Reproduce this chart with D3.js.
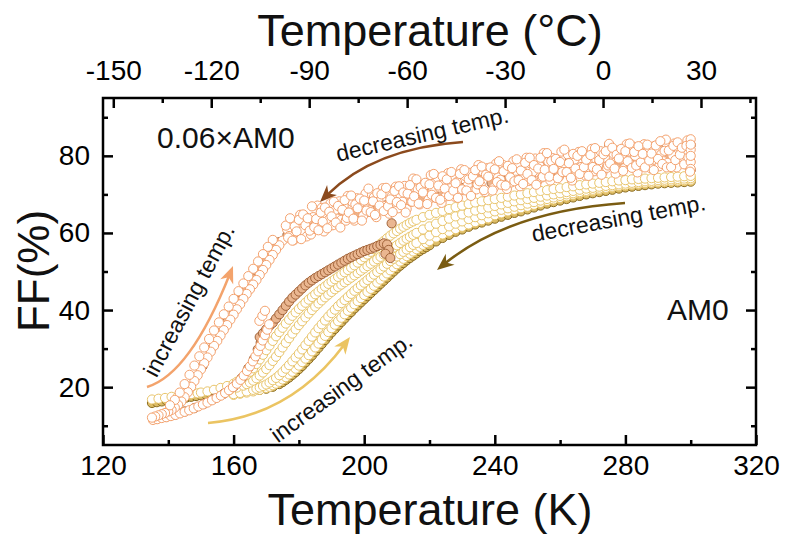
<!DOCTYPE html>
<html>
<head>
<meta charset="utf-8">
<script src="https://cdn.jsdelivr.net/npm/d3@7"></script>
<style>
  body { margin: 0; background: #fff; }
  svg { display: block; }
</style>
</head>
<body>
<svg id="chart" width="786" height="537"></svg>
<script>
// ---------- axis ticks ----------
const kelvinTicks = [120, 160, 200, 240, 280, 320];
const kelvinMinor = [140, 180, 220, 260, 300];
const celsiusTicks = [-150, -120, -90, -60, -30, 0, 30];
const celsiusMinor = [-135, -105, -75, -45, -15, 15, 45];
const ffTicks = [20, 40, 60, 80];
const ffMinor = [10, 30, 50, 70, 90];

// ---------- AM0 illumination: filled sweep (underneath) ----------
const am0Filled = [[135,15.9],[136.5,16.1],[138,16.3],[139.5,16.5],[141,16.7],[142.5,16.9],[144,17.1],[145.5,17.3],[147,17.5],[148.5,17.7],[150,17.9],[151.5,18.1],[153,18.3],[154.5,18.5],[156,18.7],[157.5,18.8],[159,18.9],[160.5,19.0],[162,19.1],[164,19.0],[166,19.1],[168,19.3],[170,19.6],[172,20.1],[174,20.8],[175,21.3],[176,21.9],[177,22.5],[178,23.2],[179,23.9],[180,24.7],[181,25.5],[182,26.4],[183,27.3],[184,28.2],[185,29.2],[186,30.2],[187,31.2],[188,32.2],[189,33.2],[190,34.2],[191,35.1],[192,36.0],[193,36.9],[194,37.8],[195,38.7],[196,39.5],[197,40.4],[198,41.2],[199,42.0],[200,42.8],[201,43.6],[202,44.4],[203,45.2],[204,46.0],[205,46.8],[206,47.6],[207,48.4],[208,49.2],[209,50.0],[210,50.8],[211,51.5],[212,52.2],[213,52.9],[214,53.5],[215,54.1],[216,54.7],[217,55.3],[218,55.8],[219,56.3],[220,56.8],[222,57.8],[224,58.7],[226,59.5],[228,60.3],[230,60.9],[232,61.6],[234,62.2],[236,62.7],[238,63.2],[240,63.7],[242,64.2],[244,64.7],[246,65.2],[248,65.6],[250,66.1],[252,66.6],[254,67.1],[256,67.6],[258,68.0],[260,68.4],[262,68.8],[264,69.2],[266,69.6],[268,70.0],[270,70.3],[272,70.6],[274,70.9],[276,71.2],[278,71.5],[280,71.8],[282,72.0],[284,72.2],[286,72.4],[288,72.6],[290,72.8],[292,72.9],[294,73.0],[296,73.1],[298,73.2],[300,73.3]];

// ---------- AM0 illumination: open sweeps ----------
const am0Open1 = [[135,16.8],[137,17.0],[139,17.2],[141,17.5],[143,17.7],[145,18.0],[147,18.2],[149,18.4],[150,18.6],[152,18.9],[154,19.3],[156,19.8],[158,20.3],[160,20.9],[161,21.4],[162,21.9],[163,22.5],[164,23.2],[165,24.0],[166,24.9],[167,26.0],[168,27.2],[169,28.4],[170,29.6],[171,30.8],[172,32.0],[173,33.2],[174,34.3],[175,35.4],[176,36.5],[177,37.5],[178,38.5],[179,39.4],[180,40.3],[181,41.1],[182,41.9],[183,42.7],[184,43.4],[185,44.1],[186,44.8],[187,45.5],[188,46.1],[189,46.8],[190,47.4],[191,48.0],[192,48.6],[193,49.2],[194,49.8],[195,50.4],[196,51.0],[197,51.6],[198,52.3],[199,53.0],[200,53.7],[201,54.4],[202,55.1],[203,55.8],[204,56.5],[205,57.2],[206,57.9],[207,58.6],[208,59.3],[209,59.9],[210,60.5],[211,61.1],[212,61.6],[213,62.1],[214,62.6],[215,63.0],[216,63.4],[218,64.1],[220,64.7],[222,65.2],[224,65.7],[226,66.2],[228,66.7],[230,67.1],[232,67.5],[234,67.9],[236,68.2],[238,68.5],[240,68.8],[242,69.1],[244,69.4],[246,69.7],[248,70.0],[250,70.3],[252,70.6],[254,70.9],[256,71.1],[258,71.4],[260,71.6],[262,71.9],[264,72.1],[266,72.4],[268,72.6],[270,72.8],[272,73.0],[274,73.2],[276,73.4],[278,73.6],[280,73.7],[282,73.9],[284,74.0],[286,74.1],[288,74.2],[290,74.3],[292,74.4],[294,74.5],[296,74.6],[298,74.7],[300,74.8]];
const am0Open2 = [[155,18.7],[157,19.0],[159,19.4],[161,19.9],[163,20.4],[164,20.8],[165,21.2],[166,21.7],[167,22.3],[168,23.0],[169,23.8],[170,24.7],[171,25.7],[172,26.8],[173,27.9],[174,29.1],[175,30.3],[176,31.5],[177,32.7],[178,33.9],[179,35.0],[180,36.1],[181,37.1],[182,38.1],[183,39.1],[184,40.0],[185,40.9],[186,41.7],[187,42.5],[188,43.3],[189,44.0],[190,44.7],[191,45.4],[192,46.0],[193,46.6],[194,47.2],[195,47.8],[196,48.4],[197,49.0],[198,49.6],[199,50.2],[200,50.8],[201,51.4],[202,52.0],[203,52.6],[204,53.2],[205,53.8],[206,54.4],[207,55.0],[208,55.6],[209,56.2],[210,56.8],[211,57.4],[212,58.0],[213,58.5],[214,59.0],[215,59.5],[216,60.0],[218,60.9],[220,61.7],[222,62.4],[224,63.1],[226,63.7],[228,64.3],[230,64.8],[232,65.3],[234,65.8],[236,66.2],[238,66.6],[240,67.0],[242,67.4],[244,67.8],[246,68.2],[248,68.5],[250,68.8],[252,69.1],[254,69.4],[256,69.7],[258,70.0],[260,70.3],[262,70.6],[264,70.9],[266,71.2],[268,71.5],[270,71.7],[272,72.0],[274,72.2],[276,72.4],[278,72.6],[280,72.8],[282,73.0],[284,73.2],[286,73.4],[288,73.5],[290,73.7],[292,73.8],[294,73.9],[296,74.0],[298,74.1],[300,74.2]];
const am0Open3 = [[160,18.2],[162,18.5],[164,18.9],[166,19.3],[167,19.6],[168,19.9],[169,20.3],[170,20.7],[171,21.2],[172,21.8],[173,22.4],[174,23.1],[175,23.9],[176,24.8],[177,25.7],[178,26.7],[179,27.7],[180,28.7],[181,29.8],[182,30.9],[183,32.0],[184,33.1],[185,34.2],[186,35.3],[187,36.3],[188,37.3],[189,38.3],[190,39.2],[191,40.1],[192,41.0],[193,41.8],[194,42.6],[195,43.4],[196,44.2],[197,45.0],[198,45.7],[199,46.4],[200,47.1],[201,47.8],[202,48.5],[203,49.2],[204,49.9],[205,50.6],[206,51.3],[207,52.0],[208,52.7],[209,53.3],[210,53.9],[211,54.5],[212,55.1],[213,55.7],[214,56.3],[215,56.9],[216,57.4],[218,58.4],[220,59.3],[222,60.2],[224,61.0],[226,61.7],[228,62.4],[230,63.0],[232,63.6],[234,64.1],[236,64.6],[238,65.1],[240,65.6],[242,66.0],[244,66.4],[246,66.8],[248,67.2],[250,67.6],[252,68.0],[254,68.4],[256,68.8],[258,69.2],[260,69.6],[262,70.0],[264,70.3],[266,70.6],[268,70.9],[270,71.2],[272,71.5],[274,71.7],[276,72.0],[278,72.2],[280,72.4],[282,72.6],[284,72.8],[286,73.0],[288,73.1],[290,73.3],[292,73.4],[294,73.5],[296,73.6],[298,73.7],[300,73.8]];
const am0Open4 = [[160,18.0],[162,18.3],[164,18.6],[166,18.9],[168,19.3],[170,19.8],[171,20.1],[172,20.5],[173,20.9],[174,21.4],[175,22.0],[176,22.6],[177,23.3],[178,24.0],[179,24.8],[180,25.6],[181,26.5],[182,27.4],[183,28.3],[184,29.3],[185,30.3],[186,31.3],[187,32.3],[188,33.3],[189,34.3],[190,35.3],[191,36.2],[192,37.1],[193,38.0],[194,38.9],[195,39.8],[196,40.6],[197,41.5],[198,42.3],[199,43.1],[200,43.9],[201,44.7],[202,45.5],[203,46.3],[204,47.1],[205,47.9],[206,48.7],[207,49.5],[208,50.3],[209,51.1],[210,51.9],[211,52.6],[212,53.3],[213,54.0],[214,54.6],[215,55.2],[216,55.8],[217,56.4],[218,56.9],[219,57.4],[220,57.9],[222,58.8],[224,59.6],[226,60.3],[228,61.0],[230,61.6],[232,62.2],[234,62.8],[236,63.3],[238,63.8],[240,64.6],[242,65.1],[244,65.6],[246,66.0],[248,66.4],[250,66.8],[252,67.3],[254,67.8],[256,68.3],[258,68.7],[260,69.1],[262,69.5],[264,69.9],[266,70.3],[268,70.6],[270,70.9],[272,71.2],[274,71.5],[276,71.8],[278,72.1],[280,72.3],[282,72.5],[284,72.7],[286,72.9],[288,73.0],[290,73.1],[292,73.2],[294,73.3],[296,73.4],[298,73.5],[300,73.6]];

// ---------- 0.06xAM0 illumination: filled points ----------
const sunLowFilled = [
  // low-temperature path
  [136,11.8],[139,12.3],[142,12.9],[145,13.7],[148,14.6],[151,15.7],[154,17.0],[157,18.3],[160,20.1],[162.5,22.4],[164.5,24.9],[166.2,27.3],[167.4,29.8],[168.3,31.5],
  // lower branch
  [168,33.0],[169,34.0],[170,35.0],[171,35.9],[172,36.7],[173,37.8],[174,38.9],[175,40.0],[176,41.1],[177,42.2],[178,43.2],[179,44.0],[180,44.8],[181,45.6],[182,46.4],[183,47.1],[184,47.7],[185,48.3],[186,48.8],[187,49.3],[188,49.8],[189,50.3],[190,50.8],[191,51.3],[192,51.8],[193,52.3],[194,52.8],[195,53.3],[196,53.7],[197,54.1],[198,54.5],[199,54.9],[200,55.3],[201,55.6],[202,55.9],[203,56.2],[204,56.6],[205,56.9],[206,57.3],[207,57.0],[207.5,55.6],[206.5,54.6],[208,53.5],
  [208.4,62.5],
  // steep branch
  [150.5,25.5],[153,29.8],[155.8,34.0],[158,36.9],[160,39.8],[162,42.5],[164,45.3],[166,48.2],[168,50.8],[170,53.4],[172,55.9],[174,57.6],
  // upper branch
  [176.5,59.5],[178.5,58.6],[180.5,60.2],[182,61.0],[184.5,62.4],[187,61.8],[189.5,63.0],[192,64.1],[195,64.0],[198,65.3],[201,65.5],[204,66.4],[207,67.3],[210,67.9],[212.5,66.8],[215,68.4],[218,69.3],[221,70.0],[224,70.2],[227,71.0],[230,71.6],[233,72.0],[236,74.8],[239,73.0],[242,73.8],[245,77.0],[248,74.2],[251,75.0],[254,78.3],[257,75.6],[260,76.0],[263,79.5],[266,76.8],[269,77.3],[272,80.8],[275,82.8],[278,77.9],[281,78.6],[284,81.9],[287,79.0],[290,82.3],[293,79.3],[296,83.0],[298.5,79.0],[300,82.8],[300,76.3]
];

// ---------- 0.06xAM0 illumination: open points ----------
const sunLowOpenLower = [[135.3,11.5],[136.6,11.7],[138,12.0],[139.4,12.2],[140.8,12.5],[142.2,12.8],[143.6,13.2],[145,13.6],[146.4,14.0],[147.8,14.5],[149.2,15.0],[150.6,15.5],[152,16.0],[153.4,16.6],[154.8,17.2],[156.1,17.8],[157.4,18.5],[158.6,19.2],[159.8,20.0],[161,20.9],[162.1,21.9],[163.1,23.0],[164.1,24.2],[165,25.4],[165.9,26.7],[166.7,28.0],[167.5,29.3],[168.2,30.7],[168.9,32.1],[169.6,33.5],[170.3,34.9],[170.9,36.3],[167.9,37.2],[168.8,38.5],[169.6,39.8]];
const sunLowOpenSteep = [[175,58.0],[174,56.8],[173,55.6],[172,54.3],[171,53.0],[170,51.7],[169,50.4],[168,49.1],[167,47.8],[166,46.6],[165,45.4],[164,44.2],[163,42.9],[162,41.5],[161,40.2],[160,38.8],[159,37.5],[158,36.1],[157,34.8],[156,33.4],[155,32.0],[154,30.7],[153,29.2],[152,27.7],[151,26.2],[150,24.6],[149,23.1],[148,21.6],[147,20.1],[146,18.7],[145,17.4],[144,16.3],[143,15.4],[142,14.7],[141,14.1],[140,13.7],[139,13.3],[138,13.0],[137,12.7],[136,12.4],[135,12.1],
  [172,58.2],[170.5,56.4],[169,54.5],[167.5,52.6],[166,50.7],[164.5,48.8],[163,46.9],[161.5,44.9],[160,42.9],[158.5,40.9],[157,38.9],[155.5,36.8],[154,34.7],[152.5,32.5],[151,30.3],[149.5,28.0],[148,25.6],[146.5,23.2],[145,20.8],[143.5,18.6],[142,16.7],[140.5,15.3]];
const sunLowOpenUpper = [[176.0,61.9],[176.7,58.8],[177.3,63.8],[178.0,58.0],[178.7,61.7],[179.3,60.4],[180.0,63.4],[180.7,58.4],[181.3,64.8],[182.0,62.0],[182.7,63.8],[183.3,60.6],[184.0,66.9],[184.7,61.5],[185.3,63.6],[186.0,60.7],[186.7,65.3],[187.3,62.9],[188.0,66.6],[188.7,61.2],[189.3,65.5],[190.0,64.3],[190.7,68.1],[191.3,62.7],[192.0,67.0],[192.7,61.4],[193.3,66.0],[194.0,68.5],[194.7,63.9],[195.3,65.3],[196.0,69.7],[196.7,63.7],[197.3,67.4],[198.0,66.4],[198.7,68.9],[199.3,63.2],[200.0,68.4],[200.7,65.8],[201.3,71.5],[202.0,65.4],[202.7,68.2],[203.3,64.7],[204.0,70.3],[204.7,67.1],[205.3,70.0],[206.0,65.7],[206.7,71.7],[207.3,66.9],[208.0,68.7],[208.7,65.4],[209.3,70.9],[210.0,68.0],[210.7,72.1],[211.3,67.2],[212.0,70.5],[212.7,65.3],[213.3,70.2],[214.0,72.4],[214.7,68.1],[215.3,69.5],[216.0,73.9],[216.7,67.6],[217.3,71.8],[218.0,70.5],[218.7,73.0],[219.3,67.5],[220.0,72.6],[220.7,69.9],[221.3,75.3],[222.0,69.1],[222.7,72.3],[223.3,68.6],[224.0,74.7],[224.7,71.5],[225.3,73.9],[226.0,69.6],[226.7,75.8],[227.3,71.0],[228.0,72.9],[228.7,69.1],[229.3,75.3],[230.0,71.3],[230.7,76.3],[231.3,71.0],[232.0,73.9],[232.7,69.6],[233.3,74.7],[234.0,76.3],[234.7,72.6],[235.3,73.4],[236.0,77.2],[236.7,71.1],[237.3,75.1],[238.0,74.6],[238.7,77.0],[239.3,71.0],[240.0,76.5],[240.7,73.2],[241.3,78.6],[242.0,72.5],[242.7,76.0],[243.3,72.3],[244.0,77.4],[244.7,74.4],[245.3,76.8],[246.0,73.4],[246.7,79.1],[247.3,73.7],[248.0,76.2],[248.7,72.7],[249.3,78.2],[250.0,75.3],[250.7,79.5],[251.3,73.7],[252.0,77.6],[252.7,72.5],[253.3,76.7],[254.0,79.5],[254.7,74.6],[255.3,76.4],[256.0,80.7],[256.7,74.6],[257.3,78.6],[258.0,76.6],[258.7,79.2],[259.3,74.2],[260.0,78.4],[260.7,75.8],[261.3,81.6],[262.0,75.8],[262.7,78.1],[263.3,74.3],[264.0,80.5],[264.7,76.7],[265.3,80.0],[266.0,75.3],[266.7,81.2],[267.3,77.1],[268.0,79.0],[268.7,74.8],[269.3,80.2],[270.0,77.1],[270.7,82.0],[271.3,76.5],[272.0,78.9],[272.7,75.1],[273.3,80.4],[274.0,81.2],[274.7,77.5],[275.3,78.0],[276.0,82.1],[276.7,76.7],[277.3,80.3],[278.0,79.3],[278.7,81.8],[279.3,76.1],[280.0,81.2],[280.7,78.6],[281.3,83.2],[282.0,76.9],[282.7,81.0],[283.3,77.5],[284.0,82.5],[284.7,78.3],[285.3,80.5],[286.0,77.0],[286.7,82.9],[287.3,78.8],[288.0,80.6],[288.7,76.3],[289.3,82.7],[290.0,79.2],[290.7,83.8],[291.3,77.9],[292.0,81.3],[292.7,77.0],[293.3,81.4],[294.0,77.1],[294.7,82.6],[295.3,78.9],[296.0,83.5],[296.7,80.3],[297.3,82.1],[298.0,77.8],[298.7,82.6],[299.3,79.6],[300.0,81.6],[300,84.3],[300,78.4],[300,76.6],[300,82.9],[300,80.0],[299.8,75.9]];
const sunLowOpenUpper2 = [[176.4,60.9],[177.0,59.2],[177.7,62.6],[178.4,58.1],[179.0,62.7],[179.7,61.3],[180.4,64.7],[181.0,60.4],[181.7,64.4],[182.4,59.1],[183.0,63.7],[183.7,59.6],[184.4,64.1],[185.0,61.0],[185.7,67.1],[186.4,62.8],[187.0,66.5],[187.7,60.4],[188.4,64.9],[189.0,63.3],[189.7,67.7],[190.4,62.0],[191.0,65.8],[191.7,63.7],[192.4,68.2],[193.0,63.4],[193.7,67.0],[194.4,63.2],[195.0,69.6],[195.7,65.2],[196.4,68.0],[197.0,63.2],[197.7,69.0],[198.4,66.8],[199.0,68.0],[199.7,64.5],[200.4,70.2],[201.0,66.3],[201.7,65.9],[202.4,69.9],[203.0,69.3],[203.7,64.1],[204.4,68.2],[205.0,66.0],[205.7,71.6],[206.4,67.0],[207.0,70.3],[207.7,65.0],[208.4,69.5],[209.0,67.8],[209.7,72.0],[210.4,66.4],[211.0,71.3],[211.7,68.1],[212.4,72.2],[213.0,66.2],[213.7,70.1],[214.4,68.1],[215.0,74.1],[215.7,68.5],[216.4,71.4],[217.0,67.4],[217.7,72.5],[218.4,70.2],[219.0,72.4],[219.7,68.6],[220.4,75.0],[221.0,70.9],[221.7,69.2],[222.4,74.4],[223.0,71.8],[223.7,67.8],[224.4,73.2],[225.0,69.5],[225.7,75.5],[226.4,71.6],[227.0,74.7],[227.7,69.4],[228.4,73.2],[229.0,70.9],[229.7,76.5],[230.4,71.1],[231.0,74.7],[231.7,72.4],[232.4,75.6],[233.0,70.7],[233.7,74.6],[234.4,71.3],[235.0,77.6],[235.7,72.4],[236.4,75.9],[237.0,70.6],[237.7,76.8],[238.4,74.7],[239.0,75.4],[239.7,71.7],[240.4,78.0],[241.0,74.4],[241.7,73.8],[242.4,77.7],[243.0,76.3],[243.7,71.4],[244.4,75.9],[245.0,73.1],[245.7,78.6],[246.4,73.8],[247.0,78.0],[247.7,72.1],[248.4,76.1],[249.0,74.4],[249.7,79.5],[250.4,73.5],[251.0,78.0],[251.7,75.9],[252.4,79.3],[253.0,73.4],[253.7,77.4],[254.4,74.4],[255.0,80.7],[255.7,75.6],[256.4,78.5],[257.0,73.6],[257.7,79.4],[258.4,77.1],[259.0,78.5],[259.7,74.6],[260.4,81.1],[261.0,76.9],[261.7,75.8],[262.4,80.3],[263.0,78.2],[263.7,73.6],[264.4,79.0],[265.0,75.8],[265.7,81.0],[266.4,77.1],[267.0,80.1],[267.7,74.9],[268.4,78.4],[269.0,76.7],[269.7,81.8],[270.4,76.0],[271.0,80.4],[271.7,77.8],[272.4,81.2],[273.0,75.7],[273.7,79.5],[274.4,76.9],[275.0,83.1],[275.7,77.7],[276.4,80.5],[277.0,75.4],[277.7,81.4],[278.4,79.1],[279.0,80.3],[279.7,76.8],[280.4,83.0],[281.0,78.8],[281.7,77.6],[282.4,82.4],[283.0,80.0],[283.7,75.7],[284.4,81.5],[285.0,77.4],[285.7,83.0],[286.4,79.4],[287.0,80.9],[287.7,76.8],[288.4,82.4],[289.0,79.0],[289.7,81.6],[290.4,77.3],[291.0,80.4],[291.7,78.6],[292.4,84.2],[293.0,78.2],[293.7,81.6],[294.4,80.1],[295.0,83.2],[295.7,77.0],[296.4,82.3],[297.0,79.7],[297.7,81.2],[298.4,77.8],[299.0,84.0],[299.7,79.3]];

// ---------- layout ----------
const FONT = '"Liberation Sans", Arial, Helvetica, sans-serif';
const plot = { left: 103, right: 756, top: 98, bottom: 445 };
const svg = d3.select("#chart");
svg.append("rect").attr("width", 786).attr("height", 537).attr("fill", "#fff");

const x = d3.scaleLinear().domain([120, 320]).range([plot.left, plot.right]);
const xC = d3.scaleLinear().domain([120 - 273.15, 320 - 273.15]).range([plot.left, plot.right]);
const y = d3.scaleLinear().domain([5, 95]).range([plot.bottom, plot.top]);

// ---------- scatter ----------
const R = 4.6;
function drawPoints(data, fill, stroke) {
  svg.append("g").selectAll("circle").data(data).join("circle")
    .attr("cx", d => x(d[0])).attr("cy", d => y(d[1])).attr("r", R)
    .attr("fill", fill).attr("stroke", stroke).attr("stroke-width", 1);
}
drawPoints(am0Filled, "#dcbc66", "#8c6d22");
[am0Open4, am0Open3, am0Open2, am0Open1].forEach(s => drawPoints(s, "#fff", "#e9c56b"));
drawPoints(sunLowFilled, "#eab690", "#a2643a");
drawPoints(sunLowOpenLower, "#fff", "#f4a26e");
drawPoints(sunLowOpenSteep, "#fff", "#f4a26e");
drawPoints(sunLowOpenUpper2, "#fff", "#f4a26e");
drawPoints(sunLowOpenUpper, "#fff", "#f4a26e");

// ---------- axes ----------
function styleAxis(g) {
  g.select(".domain").remove();
  g.attr("font-family", FONT).attr("font-size", 28);
  g.selectAll(".tick line").attr("stroke", "#000").attr("stroke-width", 2.5);
  g.selectAll(".tick text").attr("fill", "#000");
  return g;
}
const fmt = d => String(d);
styleAxis(svg.append("g").attr("transform", `translate(0,${plot.bottom})`)
  .call(d3.axisBottom(x).tickValues(kelvinTicks).tickSize(-10).tickPadding(10).tickFormat(fmt)));
styleAxis(svg.append("g").attr("transform", `translate(0,${plot.bottom})`)
  .call(d3.axisBottom(x).tickValues(kelvinMinor).tickSize(-5).tickFormat("")));
styleAxis(svg.append("g").attr("transform", `translate(0,${plot.top})`)
  .call(d3.axisTop(xC).tickValues(celsiusTicks).tickSize(-10).tickPadding(18).tickFormat(fmt)));
styleAxis(svg.append("g").attr("transform", `translate(0,${plot.top})`)
  .call(d3.axisTop(xC).tickValues(celsiusMinor).tickSize(-5).tickFormat("")));
styleAxis(svg.append("g").attr("transform", `translate(${plot.left},0)`)
  .call(d3.axisLeft(y).tickValues(ffTicks).tickSize(-10).tickPadding(13).tickFormat(fmt)));
styleAxis(svg.append("g").attr("transform", `translate(${plot.left},0)`)
  .call(d3.axisLeft(y).tickValues(ffMinor).tickSize(-5).tickFormat("")));
styleAxis(svg.append("g").attr("transform", `translate(${plot.right},0)`)
  .call(d3.axisRight(y).tickValues(ffTicks).tickSize(-10).tickFormat("")));
styleAxis(svg.append("g").attr("transform", `translate(${plot.right},0)`)
  .call(d3.axisRight(y).tickValues(ffMinor).tickSize(-5).tickFormat("")));

svg.append("rect")
  .attr("x", plot.left).attr("y", plot.top)
  .attr("width", plot.right - plot.left).attr("height", plot.bottom - plot.top)
  .attr("fill", "none").attr("stroke", "#000").attr("stroke-width", 2.5);

// ---------- titles ----------
function label(txt, px, py, size, rot, anchor) {
  svg.append("text").text(txt)
    .attr("transform", `translate(${px},${py}) rotate(${rot || 0})`)
    .attr("text-anchor", anchor || "middle")
    .attr("font-family", FONT).attr("font-size", size).attr("fill", "#111");
}
label("Temperature (K)", 430, 525, 45);
label("Temperature (°C)", 430, 46, 45);
label("FF(%)", 49, 271, 44, -90);
label("0.06×AM0", 157, 148, 30, 0, "start");
label("AM0", 667, 320, 30, 0, "start");

// ---------- direction arrows ----------
function arrow(p0, c, p1, color, note, notePos, noteRot) {
  const ang = Math.atan2(p1[1] - c[1], p1[0] - c[0]);
  const end = [p1[0] - 9 * Math.cos(ang), p1[1] - 9 * Math.sin(ang)];
  svg.append("path")
    .attr("d", `M${p0[0]},${p0[1]} Q${c[0]},${c[1]} ${end[0]},${end[1]}`)
    .attr("fill", "none").attr("stroke", color).attr("stroke-width", 2.6);
  svg.append("path")
    .attr("d", "M0,0 L-17,-7 L-12,0 L-17,7 Z")
    .attr("transform", `translate(${p1[0]},${p1[1]}) rotate(${ang * 180 / Math.PI})`)
    .attr("fill", color);
  svg.append("text").text(note)
    .attr("transform", `translate(${notePos[0]},${notePos[1]}) rotate(${noteRot})`)
    .attr("text-anchor", "middle")
    .attr("font-family", FONT).attr("font-size", 23).attr("fill", "#111");
}
arrow([463, 142], [374, 148], [320, 202], "#8b4a1d", "decreasing temp.", [424, 142], -13);
arrow([625, 203], [509, 211], [437, 270], "#7a5c12", "decreasing temp.", [620, 226], -10.5);
arrow([147, 387], [190, 374], [233, 266], "#f3a36c", "increasing temp.", [196, 304], -62);
arrow([208, 423], [291, 416], [350, 337], "#ebc462", "increasing temp.", [346, 394], -36);
</script>
</body>
</html>
